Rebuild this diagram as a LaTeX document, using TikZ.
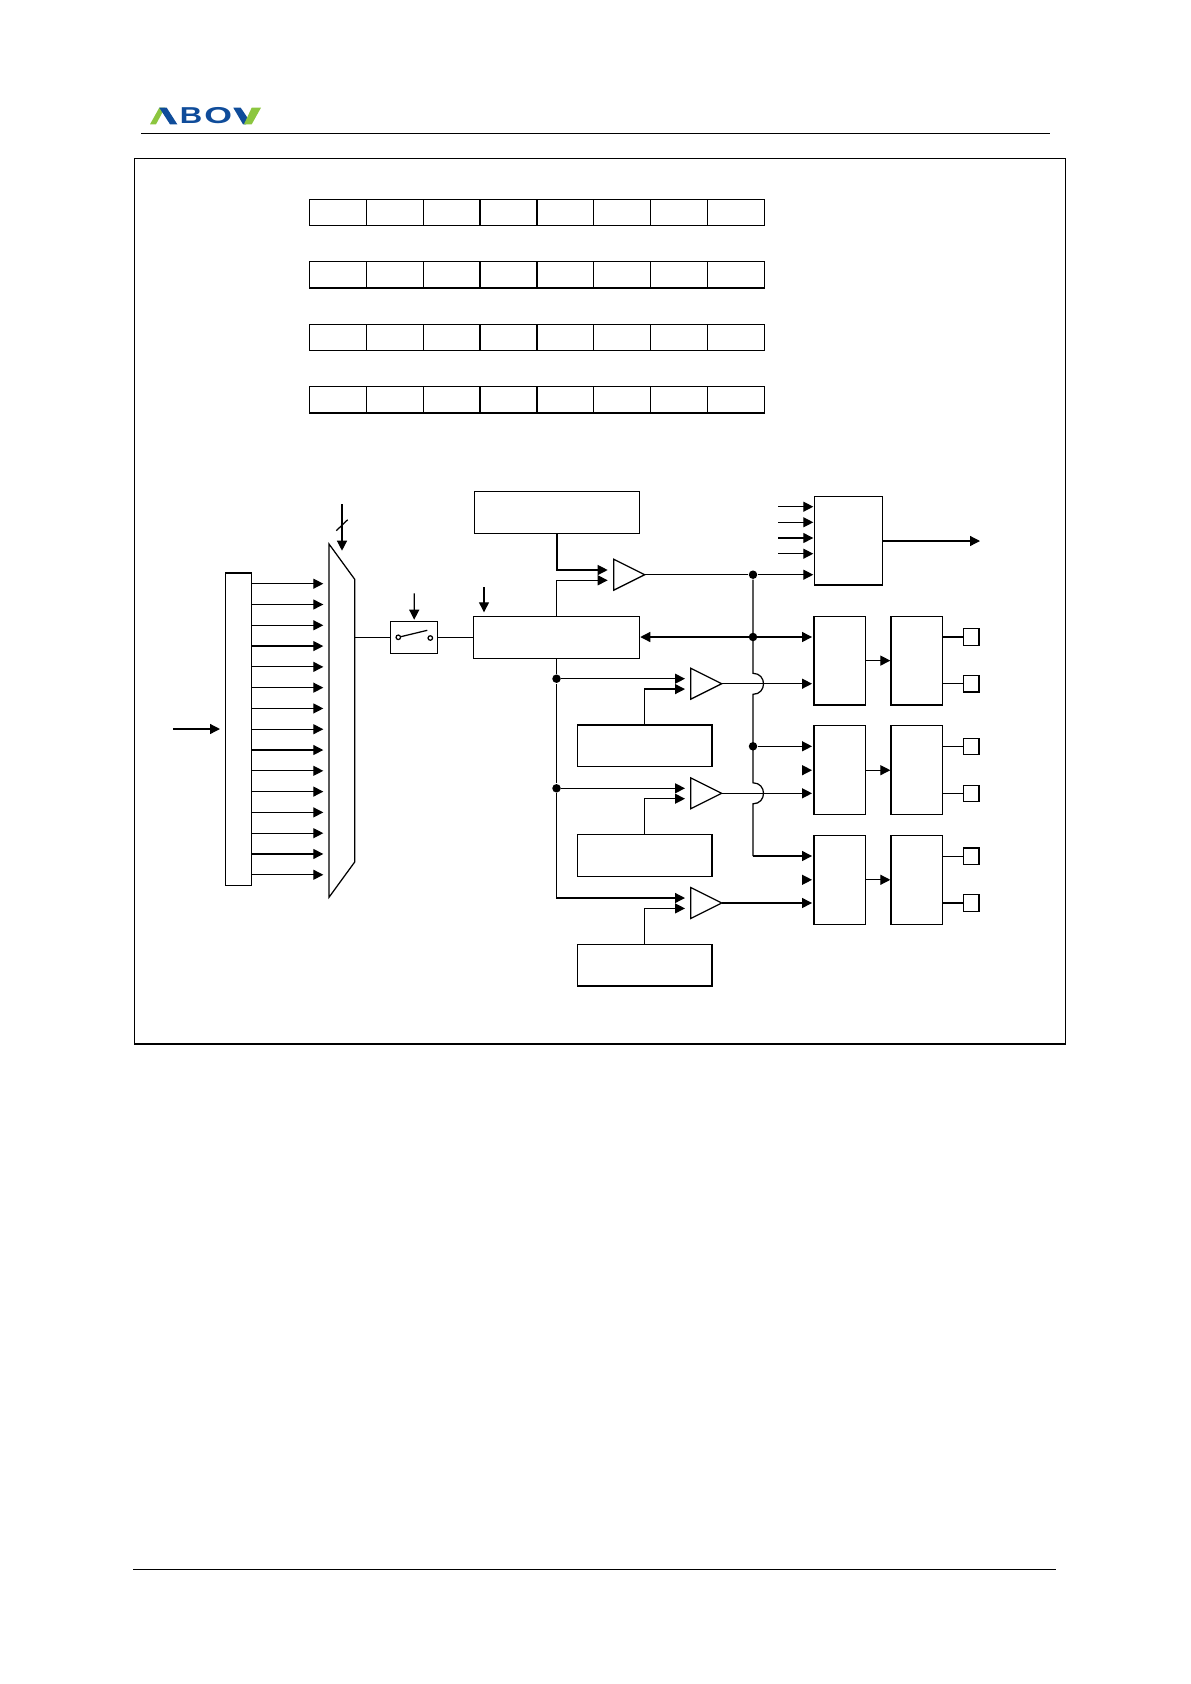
\documentclass[tikz,border=0pt]{standalone}
\usepackage{fontspec}
\setmainfont{Liberation Sans}
\usepackage{xcolor}
\usetikzlibrary{positioning,chains,calc,arrows.meta,shapes.geometric}
\definecolor{logoblue}{HTML}{0F4C9A}
\definecolor{logogreen}{HTML}{8CC63F}
\tikzset{
	block diagram/.style={
		x=1pt,y=-1pt,
		line width=1.25pt,
		node distance=0pt
	},
	regcell/.style={
		rectangle,
		draw,
		on chain,
		outer sep=0pt,
		minimum width=56.9pt,
		minimum height=26.2pt
	},
	block/.style={
		rectangle,
		draw,
		outer sep=0pt,
		inner sep=0pt
	},
	wide block/.style={
		block,
		minimum width=165.5pt,
		minimum height=41.7pt
	},
	src block/.style={
		block,
		minimum width=134.7pt,
		minimum height=41.7pt
	},
	tall block/.style={
		block,
		minimum width=51.3pt,
		minimum height=88.7pt
	},
	pad/.style={
		block,
		minimum width=15.7pt,
		minimum height=16.3pt
	},
	amp/.style={
		isosceles triangle,
		isosceles triangle stretches,
		draw,
		inner sep=0pt,
		outer sep=0pt,
		anchor=lower side,
		minimum width=31pt,
		minimum height=31pt
	},
	dot/.style={
		circle,
		fill,
		inner sep=0pt,
		minimum size=8.5pt
	},
	contact/.style={
		circle,
		draw,
		fill=white,
		inner sep=0pt,
		minimum size=4.5pt
	},
	signal/.style={
		-{Triangle[length=10pt,width=10pt]}
	},
	both signal/.style={
		{Triangle[length=10pt,width=10pt]}-{Triangle[length=10pt,width=10pt]}
	},
	logo letter/.style={
		inner sep=0pt,
		text=logoblue,
		font=\bfseries\fontsize{23}{23}\selectfont
	}
}

\begin{document}
\begin{tikzpicture}[block diagram]
	\useasboundingbox (0,0) rectangle (1191,1684);

	% page furniture
	\draw (141,133.3) -- (1050,133.3);
	\draw (133,1569.3) -- (1056,1569.3);
	\node[draw,rectangle,anchor=north west,minimum width=931.2pt,minimum height=885.4pt,outer sep=0pt] (frame) at (134.3,158.6) {};
	\fill[logogreen] (150,124.3) -- (156,124.3) -- (165,107.7) -- (159.3,107.7) -- cycle;
	\fill[logoblue] (159.3,107.7) -- (166.7,107.7) -- (177.3,124.3) -- (170,124.3) -- cycle;
	\node[logo letter] (logoB) at (191,116) {\scalebox{1.35}[1]{B}};
	\node[logo letter] (logoO) at (218.3,116) {\scalebox{1.55}[1]{O}};
	\fill[logoblue] (233.3,107.7) -- (240.7,107.7) -- (249,120) -- (246,124.3) -- (243,124.3) -- cycle;
	\fill[logogreen] (251.7,107.7) -- (261,107.7) -- (251.7,124.3) -- (244,124.3) -- cycle;

	% registers
	\foreach \y in {212.5,274.9,337.4,399.9} {
		\begin{scope}[start chain=going right]
			\node[regcell,at={(337.8,\y)}] {};
			\foreach \i in {2,...,8}
				\node[regcell] {};
		\end{scope}
	}

	% left part
	\node[block,minimum width=26pt,minimum height=312.3pt] (decoder) at (238.7,729.2) {};
	\coordinate (clk in) at (173.3,729);
	\draw[signal] (clk in) -- ([xshift=-5.7pt]decoder.west |- clk in);

	\coordinate (mux nw) at (329,544);
	\coordinate (mux ne) at (354.7,579.3);
	\coordinate (mux se) at (354.7,862);
	\coordinate (mux sw) at (329,897.3);
	\draw (mux nw) -- (mux ne) -- (mux se) -- (mux sw) -- cycle;
	\foreach \i in {0,...,14} {
		\pgfmathsetmacro{\y}{583.7+\i*20.79}
		\coordinate (mux in \i) at (323.3,\y);
		\draw[signal] (decoder.east |- mux in \i) -- (mux in \i);
	}
	\coordinate (sel top) at (342,504);
	\coordinate (sel end) at (342,550.7);
	\draw[signal] (sel top) -- (sel end);
	\coordinate (slash a) at (336.3,530.7);
	\coordinate (slash b) at (347.7,519.7);
	\draw (slash a) -- (slash b);

	\coordinate (mux out) at (354.7,637.3);
	\node[block,minimum width=47pt,minimum height=31.6pt] (switch) at (414.2,637.5) {};
	\node[contact] (sw left) at (398.3,637.3) {};
	\node[contact] (sw right) at (430.3,638) {};
	\coordinate (lever) at (427.3,630.3);
	\draw (sw left) -- (lever);
	\coordinate (sw top) at (414.3,593.3);
	\draw[signal] (sw top) -- ([yshift=2pt]switch.north);
	\draw (mux out) -- (switch.west |- mux out);

	\node[wide block] (adc) at (556.5,637.5) {};
	\node[wide block] (topreg) at (557,512.3) {};
	\draw (switch.east |- mux out) -- (adc.west |- mux out);
	\coordinate (adc top) at (484,587);
	\coordinate (adc tip) at (484,612.3);
	\draw[signal] (adc top) -- (adc tip);

	% amplifiers
	\node[amp] (amp1) at (613.7,574.7) {};
	\coordinate (ampa1) at (607.7,570);
	\coordinate (ampb1) at (607.7,580.3);
	\draw[signal] (topreg.south) |- (ampa1);
	\draw[signal] (adc.north) |- (ampb1);

	\foreach \n/\y in {2/683.7,3/793.3,4/903} {
		\node[amp] (amp\n) at (690.7,\y) {};
		\coordinate (ampa\n) at (685,\y-5);
		\coordinate (ampb\n) at (685,\y+5.4);
		\node[src block] (src\n) at (644.6,\y+62.2) {};
		\draw[signal] (src\n.north) |- (ampb\n);
	}
	\node[dot] (adc dot a) at (adc.south |- ampa2) {};
	\node[dot] (adc dot b) at (adc.south |- ampa3) {};
	\draw (adc.south) -- (adc dot a);
	\draw (adc dot a) -- (adc dot b);
	\draw[signal] (adc dot a) -- (ampa2);
	\draw[signal] (adc dot b) -- (ampa3);
	\draw[signal] (adc dot b) |- (ampa4);

	% gate block
	\node[block,minimum width=67.6pt,minimum height=88.7pt] (gate) at (848.5,540.7) {};
	\foreach \y in {506.7,522.3,538,553.7} {
		\coordinate (gate in) at (778.3,\y);
		\draw[signal] (gate in) -- ([xshift=-1.4pt]gate.west |- gate in);
	}
	\coordinate (gate out) at (980,541);
	\draw[signal] (gate.east |- gate out) -- (gate out);

	% output rows
	\foreach \row/\y in {a/660.6,b/770.2,c/879.8} {
		\node[tall block] (ctrl\row) at (839.7,\y) {};
		\node[tall block] (drv\row) at (916.7,\y) {};
		\node[pad] (pad\row1) at (971.2,\y-23.6) {};
		\node[pad] (pad\row2) at (971.2,\y+23.2) {};
		\draw (drv\row.east |- pad\row1) -- (pad\row1);
		\draw (drv\row.east |- pad\row2) -- (pad\row2);
		\draw[signal] (ctrl\row.east) -- ([xshift=-0.7pt]drv\row.west);
	}
	\foreach \row/\n in {a/2,b/3,c/4}
		\draw[signal] (amp\n.apex) -- ([xshift=-2pt]ctrl\row.west |- amp\n.apex);
	\foreach \row in {b,c} {
		\coordinate (stub) at ([xshift=-12pt]ctrl\row.west);
		\draw[signal] (stub) -- ([xshift=-2pt]ctrl\row.west);
	}

	% right bus with jumps
	\node[dot] (bus dot a) at (753,574.7) {};
	\node[dot] (bus dot b) at (753,637) {};
	\node[dot] (bus dot c) at (753,746.3) {};
	\coordinate (bus end) at (753,856);
	\draw (amp1.apex) -- (bus dot a);
	\draw[signal] (bus dot a) -- ([xshift=-1.4pt]gate.west |- bus dot a);
	\draw[both signal] ([xshift=1pt]adc.east |- bus dot b) -- ([xshift=-2pt]ctrla.west |- bus dot b);
	\draw[signal] (bus dot c) -- ([xshift=-2pt]ctrlb.west |- bus dot c);
	\draw (bus dot a) -- (753,673.3) .. controls (767,673.3) and (767,694.3) .. (753,694.3)
		-- (753,782.8) .. controls (767,782.8) and (767,803.8) .. (753,803.8) -- (bus end);
	\draw[signal] (bus end) -- ([xshift=-2pt]ctrlc.west |- bus end);
\end{tikzpicture}
\end{document}
